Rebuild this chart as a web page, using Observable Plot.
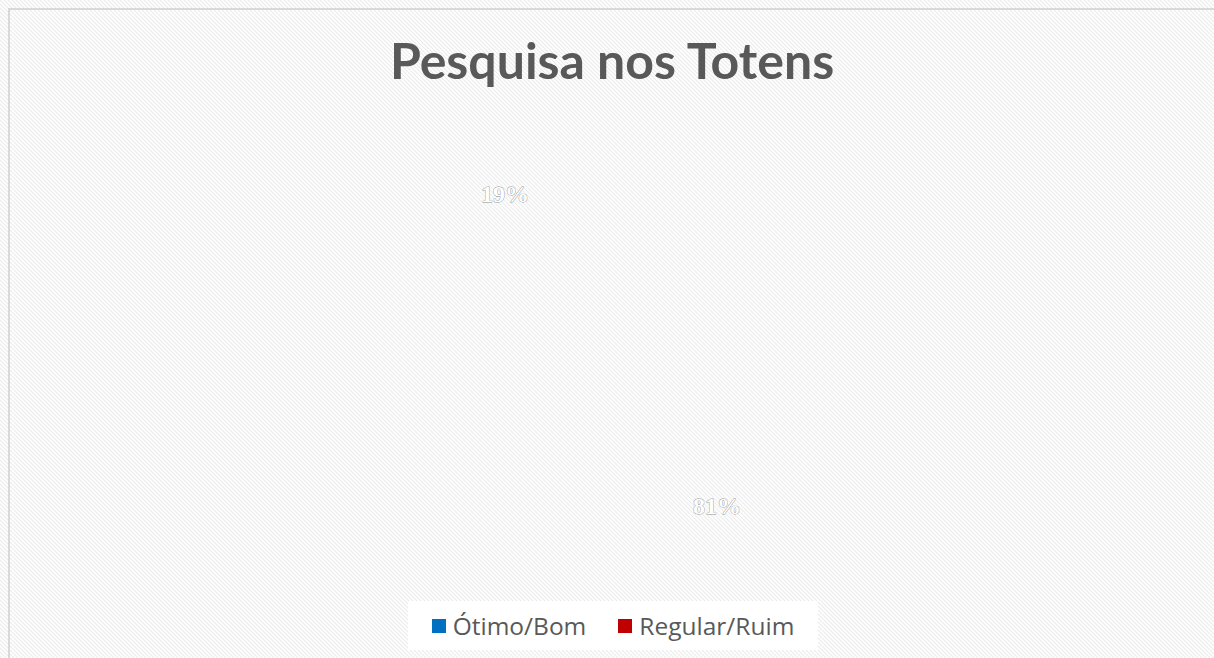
<!DOCTYPE html>
<html>
<head>
<meta charset="utf-8">
<script src="https://cdn.jsdelivr.net/npm/d3@7"></script>
<script src="https://cdn.jsdelivr.net/npm/@observablehq/plot@0.6"></script>
<style>
  html, body { margin: 0; padding: 0; }
  body {
    width: 1214px; height: 658px; overflow: hidden; position: relative;
    background-color: #ffffff;
    background-image: url("data:image/svg+xml;utf8,<svg xmlns='http://www.w3.org/2000/svg' width='4' height='4'><path d='M-1,-1 L5,5 M-1,3 L1,5 M3,-1 L5,1' stroke='%23ebebeb' stroke-width='1.1'/></svg>");
    background-size: 4px 4px;
  }
  #frame {
    position: absolute; left: 8px; top: 8px; width: 1220px; height: 660px;
    border-left: 2px solid #d9d9d9; border-top: 2px solid #d9d9d9; box-sizing: border-box;
  }
  #title {
    position: absolute; left: 0; top: 30px; width: 1224px; text-align: center;
    font-family: Lato, "Open Sans", sans-serif; font-weight: 700; font-size: 50px; color: #595959;
  }
  #chart { position: absolute; left: 0; top: 105px; }
  #legend {
    position: absolute; left: 408px; top: 601px; width: 410px; height: 49px;
    background: #ffffff; display: flex; align-items: center; justify-content: center; gap: 32px;
    font-family: "Open Sans", Lato, sans-serif; font-size: 24.5px; color: #595959;
  }
  .item { display: flex; align-items: center; gap: 7px; }
  .sw { width: 14px; height: 14px; display: inline-block; }
</style>
</head>
<body>
<div id="frame"></div>
<div id="title">Pesquisa nos Totens</div>
<div id="chart"></div>
<div id="legend"></div>
<script>
const categories = ["Ótimo/Bom", "Regular/Ruim"];
const values = [81, 19];
const labels = ["81%", "19%"];
const colors = ["#0070C0", "#C00000"];

const W = 1214, H = 490, cx = 610.5, cy = 245, R = 236;

const data = categories.map((c, i) => ({cat: c, value: values[i], label: labels[i]}));
const arcs = d3.pie().sort(null).value(d => d.value)(data);

// polygon outline of each slice (angles measured clockwise from 12 o'clock)
const pts = [];
arcs.forEach(a => {
  pts.push({cat: a.data.cat, x: 0, y: 0});
  const n = Math.max(2, Math.ceil((a.endAngle - a.startAngle) / 0.02));
  for (let k = 0; k <= n; k++) {
    const t = a.startAngle + (a.endAngle - a.startAngle) * k / n;
    pts.push({cat: a.data.cat, x: R * Math.sin(t), y: R * Math.cos(t)});
  }
});
const lab = arcs.map(a => {
  const t = (a.startAngle + a.endAngle) / 2;
  return {label: a.data.label, x: 0.8 * R * Math.sin(t), y: 0.8 * R * Math.cos(t)};
});

const plot = Plot.plot({
  width: W, height: H, margin: 0,
  x: {domain: [-cx, W - cx], axis: null},
  y: {domain: [-(H - cy), cy], axis: null},
  style: {background: "transparent", overflow: "visible"},
  marks: [
    Plot.line(pts, {x: "x", y: "y", z: "cat", fill: "#ffffff", fillOpacity: 0.08, stroke: "none"}),
    Plot.text(lab, {x: "x", y: "y", text: "label", fill: "#ffffff", stroke: "#909090", strokeWidth: 0.8,
      fontSize: 24, fontFamily: "Liberation Serif, serif", fontWeight: 700})
  ]
});
document.getElementById("chart").appendChild(plot);

const leg = document.getElementById("legend");
categories.forEach((c, i) => {
  const it = document.createElement("div");
  it.className = "item";
  it.innerHTML = `<span class="sw" style="background:${colors[i]}"></span><span>${c}</span>`;
  leg.appendChild(it);
});
</script>
</body>
</html>
